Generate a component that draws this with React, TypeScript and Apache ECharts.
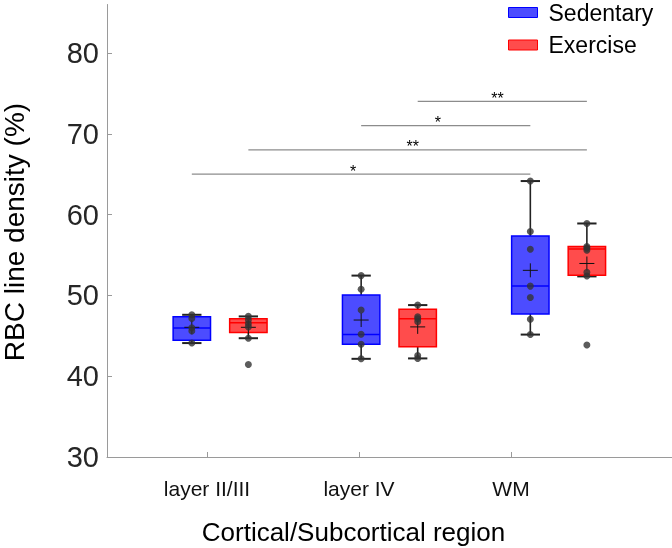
import React, { useEffect, useRef } from 'react';
import * as echarts from 'echarts';

// ---------- data ----------
const categories = ['layer II/III', 'layer IV', 'WM'];
const categoryTicks = [1, 2, 3];
const yTicks = [30, 40, 50, 60, 70, 80];
const groupNames = ['Sedentary', 'Exercise'];

// box statistics: [lower whisker, Q1, median, Q3, upper whisker]
const sedentaryBoxes = [
  [44.1, 44.45, 45.95, 47.35, 47.6],
  [42.15, 43.95, 45.15, 50.05, 52.45],
  [45.15, 47.7, 51.15, 57.35, 64.15],
];
const exerciseBoxes = [
  [44.7, 45.4, 46.6, 47.1, 47.4],
  [42.2, 43.65, 47.1, 48.3, 48.8],
  [52.35, 52.5, 55.75, 56.05, 58.9],
];
const sedentaryMeans = [46.05, 46.95, 53.1];
const exerciseMeans = [46.05, 46.1, 53.95];

// individual animals
const sedentaryPoints = [
  [47.6, 47.15, 46.0, 45.6, 44.1],
  [52.45, 50.75, 48.2, 45.2, 43.95, 42.15],
  [64.15, 57.9, 55.7, 51.15, 49.75, 47.05, 45.15],
];
const exercisePoints = [
  [47.4, 46.95, 46.5, 46.1, 44.7, 41.45],
  [48.8, 47.35, 47.1, 46.75, 42.55, 42.2],
  [58.9, 56.05, 55.85, 55.6, 52.85, 52.4, 43.85],
];

// significance brackets
const sigLevels = [74, 71, 68, 65];
const sigLabels = ['**', '*', '**', '*'];
const sigGroup = [1, 0, 1, 0]; // 0 = Sedentary, 1 = Exercise
const sigFromCat = [1, 1, 0, 0];
const sigToCat = [2, 2, 2, 2];

// ---------- layout constants ----------
const groupPositions = [0.9, 2.014, 3.127];
const exerciseOffset = 0.372;
const boxWidth = 0.246;
const capWidth = 0.127;
const FONT = '"Liberation Sans", Arial, Helvetica, sans-serif';

const colors = {
  Sedentary: { fill: 'rgba(0,0,255,0.7)', edge: '#0000ff' },
  Exercise: { fill: 'rgba(255,0,0,0.7)', edge: '#ff0000' },
};

function posOf(group: number, cat: number) {
  return groupPositions[cat] + (group === 1 ? exerciseOffset : 0);
}

export default function App() {
  const ref = useRef<HTMLDivElement>(null);

  useEffect(() => {
    if (!ref.current) return;
    const chart = echarts.init(ref.current, undefined, { renderer: 'svg' });

    const boxSets = [sedentaryBoxes, exerciseBoxes];
    const meanSets = [sedentaryMeans, exerciseMeans];
    const pointSets = [sedentaryPoints, exercisePoints];

    const boxSeries = groupNames.map((name, g) => {
      const c = (colors as any)[name];
      return {
        name,
        type: 'custom',
        coordinateSystem: 'cartesian2d',
        z: 2,
        itemStyle: { color: c.fill, borderColor: c.edge },
        encode: { x: 0, y: [1, 2, 3, 4, 5, 6] },
        data: boxSets[g].map((b, i) => [posOf(g, i), ...b, meanSets[g][i]]),
        renderItem: (params: any, api: any) => {
          const x = api.value(0);
          const lo = api.coord([x, api.value(1)]);
          const q1 = api.coord([x, api.value(2)]);
          const med = api.coord([x, api.value(3)]);
          const q3 = api.coord([x, api.value(4)]);
          const hi = api.coord([x, api.value(5)]);
          const mean = api.coord([x, api.value(6)]);
          const hw = api.size([boxWidth, 0])[0] / 2;
          const cw = api.size([capWidth, 0])[0] / 2;
          const cx = lo[0];
          const wStyle = { stroke: '#222', lineWidth: 1.6 };
          return {
            type: 'group',
            children: [
              { type: 'line', shape: { x1: cx, y1: hi[1], x2: cx, y2: q3[1] }, style: wStyle },
              { type: 'line', shape: { x1: cx, y1: q1[1], x2: cx, y2: lo[1] }, style: wStyle },
              { type: 'line', shape: { x1: cx - cw, y1: hi[1], x2: cx + cw, y2: hi[1] }, style: { stroke: '#222', lineWidth: 2 } },
              { type: 'line', shape: { x1: cx - cw, y1: lo[1], x2: cx + cw, y2: lo[1] }, style: { stroke: '#222', lineWidth: 2 } },
              {
                type: 'rect',
                shape: { x: cx - hw, y: q3[1], width: hw * 2, height: q1[1] - q3[1] },
                style: { fill: c.fill, stroke: c.edge, lineWidth: 1.5 },
              },
              { type: 'line', shape: { x1: cx - hw, y1: med[1], x2: cx + hw, y2: med[1] }, style: { stroke: c.edge, lineWidth: 1.5 } },
              { type: 'line', shape: { x1: cx - 7.5, y1: mean[1], x2: cx + 7.5, y2: mean[1] }, style: { stroke: '#111', lineWidth: 1 } },
              { type: 'line', shape: { x1: cx, y1: mean[1] - 7, x2: cx, y2: mean[1] + 7 }, style: { stroke: '#111', lineWidth: 1 } },
            ],
          };
        },
      };
    });

    const scatterData: number[][] = [];
    pointSets.forEach((set, g) =>
      set.forEach((pts, i) => pts.forEach((v) => scatterData.push([posOf(g, i), v])))
    );

    const bracketData = sigLevels.map((lvl, k) => [
      posOf(sigGroup[k], sigFromCat[k]),
      posOf(sigGroup[k], sigToCat[k]),
      lvl,
    ]);

    chart.setOption({
      animation: false,
      textStyle: { fontFamily: FONT },
      grid: { left: 107, right: 0, top: 4.5, bottom: 91, containLabel: false },
      legend: {
        orient: 'vertical',
        left: 503,
        top: -4,
        itemWidth: 29,
        itemHeight: 10,
        itemGap: 9.5,
        selectedMode: false,
        textStyle: { fontSize: 23, color: '#000', fontFamily: FONT, padding: [0, 0, 0, 6] },
        data: groupNames.map((n) => ({
          name: n,
          icon: 'rect',
          itemStyle: { color: (colors as any)[n].fill, borderColor: (colors as any)[n].edge, borderWidth: 1 },
        })),
      },
      xAxis: {
        type: 'value',
        min: 0.342,
        max: 4.059,
        splitLine: { show: false },
        axisLine: { show: true, lineStyle: { color: '#9a9a9a', width: 1 } },
        axisTick: { show: true, inside: true, length: 5, customValues: categoryTicks, lineStyle: { color: '#9a9a9a' } },
        axisLabel: {
          customValues: categoryTicks,
          formatter: (v: number) => categories[Math.round(v) - 1] ?? '',
          fontSize: 21,
          color: '#111',
          margin: 21,
          fontFamily: FONT,
        },
      },
      yAxis: {
        type: 'value',
        min: 30,
        max: 86,
        interval: 10,
        splitLine: { show: false },
        axisLine: { show: true, lineStyle: { color: '#9a9a9a', width: 1 } },
        axisTick: { show: true, inside: true, length: 5, customValues: yTicks, lineStyle: { color: '#9a9a9a' } },
        axisLabel: {
          customValues: yTicks,
          fontSize: 29,
          color: '#262626',
          margin: 8,
          fontFamily: FONT,
        },
      },
      graphic: [
        {
          type: 'text',
          x: 14,
          y: 232,
          rotation: Math.PI / 2,
          style: { text: 'RBC line density (%)', fontSize: 28, fill: '#000', align: 'center', verticalAlign: 'middle', fontFamily: FONT },
        },
        {
          type: 'text',
          x: 353.5,
          y: 532,
          style: { text: 'Cortical/Subcortical region', fontSize: 26, fill: '#000', align: 'center', verticalAlign: 'middle', fontFamily: FONT },
        },
      ],
      series: [
        ...boxSeries,
        {
          name: 'points',
          type: 'scatter',
          z: 5,
          symbol: 'circle',
          symbolSize: 7,
          itemStyle: { color: '#333' },
          data: scatterData,
        },
        {
          name: 'significance',
          type: 'custom',
          coordinateSystem: 'cartesian2d',
          z: 3,
          encode: { x: [0, 1], y: 2 },
          data: bracketData,
          renderItem: (params: any, api: any) => {
            const a = api.coord([api.value(0), api.value(2)]);
            const b = api.coord([api.value(1), api.value(2)]);
            const mid = (a[0] + b[0]) / 2;
            return {
              type: 'group',
              children: [
                { type: 'line', shape: { x1: a[0], y1: a[1], x2: b[0], y2: b[1] }, style: { stroke: '#8c8c8c', lineWidth: 1.3 } },
                {
                  type: 'text',
                  x: mid - 11,
                  y: a[1] - 3,
                  style: { text: sigLabels[params.dataIndex], fontSize: 16, fill: '#000', align: 'left', verticalAlign: 'middle', fontFamily: FONT },
                },
              ],
            };
          },
        },
      ],
    });

    return () => chart.dispose();
  }, []);

  return <div ref={ref} style={{ position: 'fixed', left: 0, top: 0, width: 672, height: 548 }} />;
}
